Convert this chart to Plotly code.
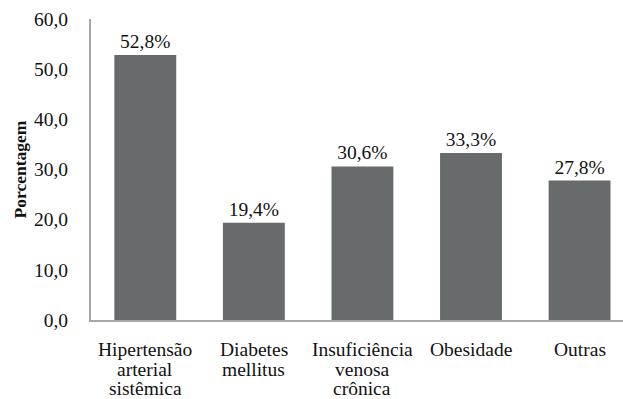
import plotly.graph_objects as go

categories = ["Hipertensão<br>arterial<br>sistêmica", "Diabetes<br>mellitus",
              "Insuficiência<br>venosa<br>crônica", "Obesidade", "Outras"]
values = [52.8, 19.4, 30.6, 33.3, 27.8]
labels = ["52,8%", "19,4%", "30,6%", "33,3%", "27,8%"]
yticks = [0, 10, 20, 30, 40, 50, 60]
yticklabels = ["0,0", "10,0", "20,0", "30,0", "40,0", "50,0", "60,0"]

FONT = "Liberation Serif"
FS = 19.5
TXT = "#111111"

xs = list(range(len(categories)))

fig = go.Figure(go.Bar(
    x=xs, y=values,
    text=labels, textposition="outside", cliponaxis=False,
    textfont=dict(family=FONT, size=FS, color=TXT),
    marker=dict(color="#676b6b", line=dict(width=0)),
    width=0.57,
))

# category labels, one annotation per line for tight line spacing
for i, cat in enumerate(categories):
    for k, line in enumerate(cat.split("<br>")):
        fig.add_annotation(
            x=xs[i], y=0, xref="x", yref="y", text=line, showarrow=False,
            xanchor="center", yanchor="top", yshift=-18 - 19.5 * k,
            borderpad=0,
            font=dict(family=FONT, size=FS, color=TXT),
        )

fig.update_layout(
    width=623, height=399,
    margin=dict(l=91, r=0, t=19, b=79),
    paper_bgcolor="white", plot_bgcolor="white",
    showlegend=False,
    font=dict(family=FONT, size=FS, color=TXT),
    xaxis=dict(
        range=[-0.5, 4.4], automargin=False,
        showticklabels=False,
        showline=True, linecolor="#a6a6a6", linewidth=2,
        showgrid=False, ticks="", zeroline=False,
    ),
    yaxis=dict(
        range=[0, 60], automargin=True,
        tickmode="array", tickvals=yticks, ticktext=yticklabels,
        showline=True, linecolor="#a6a6a6", linewidth=2,
        showgrid=False, ticks="outside", ticklen=17, tickcolor="rgba(0,0,0,0)",
        zeroline=False,
        tickfont=dict(family=FONT, size=FS, color=TXT),
        title=dict(text="<b>Porcentagem</b>", font=dict(family=FONT, size=17.5, color=TXT),
                   standoff=3),
    ),
)

fig.write_html("out.html")
